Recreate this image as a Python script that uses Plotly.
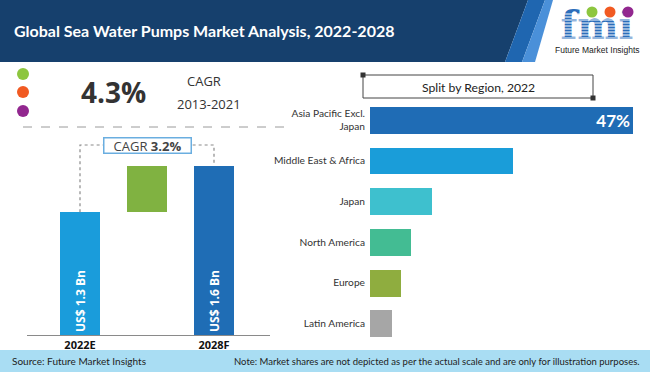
import plotly.graph_objects as go

W, H = 650, 372

# ---------------- data ----------------
TITLE = "Global Sea Water Pumps Market Analysis, 2022-2028"
HIST_CAGR = "4.3%"
HIST_LABEL = "CAGR"
HIST_PERIOD = "2013-2021"
YEARS = ["2022E", "2028F"]
MARKET_BN = [1.3, 1.6]
FCST_CAGR = "3.2%"
REGIONS = ["Asia Pacific Excl.<br>Japan", "Middle East & Africa", "Japan",
           "North America", "Europe", "Latin America"]
SHARES = [47, 25.6, 11.1, 7.3, 5.5, 3.9]
SPLIT_TITLE = "Split by Region, 2022"
SOURCE = "Source: Future Market Insights"
NOTE = ("Note: Market shares are not depicted as per the actual scale and are only "
        "for illustration purposes.")

# ---------------- styles ----------------
LEFT_COLORS = ["#1A9CDB", "#80B241", "#1F6DB5"]
REGION_COLORS = ["#1F6CB5", "#1A9DD9", "#3EC0CE", "#43BC93", "#8FAD3F", "#A6A6A6"]
FLOOR = 0.5          # bottom of the (non-zero based) value axis
GEO = "Open Sans"
CAL = "Lato"


def px(x):
    return x / W


def py(y):
    return 1 - y / H


fig = go.Figure()

# ---- left: market value bars (2022E, growth, 2028F) ----
v0, v1 = MARKET_BN
fig.add_trace(go.Bar(
    x=[0, 1, 2],
    base=[FLOOR, v0, FLOOR],
    y=[v0 - FLOOR, v1 - v0, v1 - FLOOR],
    width=0.6,
    marker=dict(color=LEFT_COLORS, line=dict(width=0)),
    text=[f"US$ {v0} Bn", "", f"US$ {v1} Bn"],
    textposition="inside",
    insidetextanchor="start",
    textangle=-90,
    textfont=dict(family=GEO, size=12, color="white", weight="bold"),
    xaxis="x", yaxis="y",
    hoverinfo="skip", showlegend=False,
))

# ---- right: regional split ----
fig.add_trace(go.Bar(
    orientation="h",
    x=SHARES,
    y=REGIONS,
    width=0.66,
    marker=dict(color=REGION_COLORS, line=dict(width=0)),
    text=[f"{SHARES[0]}%"] + [""] * (len(SHARES) - 1),
    textposition="inside",
    insidetextanchor="end",
    textfont=dict(family=CAL, size=17, color="white", weight="bold"),
    xaxis="x2", yaxis="y2",
    hoverinfo="skip", showlegend=False,
))

# ---- logo word mark on a full-page overlay axis ----
fig.add_trace(go.Scatter(
    x=[597], y=[29], mode="text", text=["fmi"],
    textfont=dict(family="DejaVu Serif", size=39, color="#2B6DBA", weight="bold"),
    cliponaxis=False,
    xaxis="x3", yaxis="y3", hoverinfo="skip", showlegend=False,
))

shapes = []
# header
shapes.append(dict(type="path", xref="paper", yref="paper", layer="below",
                   path=f"M 0,{py(0)} L {px(528)},{py(0)} L {px(505)},{py(62)} L 0,{py(62)} Z",
                   fillcolor="#16406D", line=dict(width=0)))
shapes.append(dict(type="path", xref="paper", yref="paper", layer="below",
                   path=f"M {px(528)},{py(0)} L {px(545)},{py(0)} L {px(522)},{py(62)} L {px(505)},{py(62)} Z",
                   fillcolor="#1F66B0", line=dict(width=0)))
shapes.append(dict(type="path", xref="paper", yref="paper", layer="below",
                   path=f"M {px(545)},{py(0)} L {px(553)},{py(0)} L {px(535)},{py(62)} L {px(522)},{py(62)} Z",
                   fillcolor="#4A90D9", line=dict(width=0)))
# footer
shapes.append(dict(type="rect", xref="paper", yref="paper", layer="below",
                   x0=0, x1=1, y0=py(372), y1=py(350),
                   fillcolor="#A9DDF3", line=dict(width=0)))
# dots
for cy, col in zip([74, 92, 111], ["#8DC63F", "#F15A22", "#92278F"]):
    shapes.append(dict(type="circle", xref="paper", yref="paper",
                       x0=px(17), x1=px(29), y0=py(cy + 6), y1=py(cy - 6),
                       fillcolor=col, line=dict(width=0)))
# dashed separator
shapes.append(dict(type="line", xref="paper", yref="paper",
                   x0=px(23), x1=px(285), y0=py(127), y1=py(127),
                   line=dict(color="#9A9A9A", width=1, dash="dash")))
# CAGR connector (data coordinates of left chart)
YL = FLOOR + (335 - 145) / 153.3
shapes.append(dict(type="path", xref="x", yref="y", layer="above",
                   path=f"M 0,{v0} L 0,{YL} L 2,{YL} L 2,{v1 + 0.02}",
                   line=dict(color="#8A8A8A", width=1.2, dash="dot")))
# split-by-region box
shapes.append(dict(type="rect", xref="paper", yref="paper",
                   x0=px(363), x1=px(593), y0=py(98), y1=py(75),
                   line=dict(color="#444", width=1)))
for cx, cy in [(363, 75), (593, 98)]:
    shapes.append(dict(type="rect", xref="paper", yref="paper",
                       x0=px(cx - 2.5), x1=px(cx + 2.5), y0=py(cy + 2.5), y1=py(cy - 2.5),
                       fillcolor="#333", line=dict(width=0)))
# logo stripes and circles
for sy in range(14, 40, 3):
    shapes.append(dict(type="line", xref="paper", yref="paper", layer="above",
                       x0=px(553), x1=px(642), y0=py(sy), y1=py(sy),
                       line=dict(color="white", width=1)))
for cx, col in zip([592, 610, 628], ["#8DC63F", "#F15A22", "#92278F"]):
    shapes.append(dict(type="circle", xref="paper", yref="paper", layer="above",
                       x0=px(cx - 5.5), x1=px(cx + 5.5), y0=py(17.5), y1=py(6.5),
                       fillcolor=col, line=dict(width=0)))

annotations = [
    dict(text=f"<b>{TITLE}</b>", x=px(12), y=py(30), xanchor="left", yanchor="middle",
         font=dict(family=CAL, size=16, color="white")),
    dict(text="Future Market Insights", x=px(597), y=py(50), xanchor="center", yanchor="middle",
         font=dict(family="Liberation Sans", size=8.5, color="#222")),
    dict(text=f"<b>{HIST_CAGR}</b>", x=px(113), y=py(92), xanchor="center", yanchor="middle",
         font=dict(family=GEO, size=28, color="#333")),
    dict(text=HIST_LABEL, x=px(204), y=py(81), xanchor="center", yanchor="middle",
         font=dict(family=GEO, size=13, color="#333")),
    dict(text=HIST_PERIOD, x=px(209), y=py(104), xanchor="center", yanchor="middle",
         font=dict(family=GEO, size=13, color="#333")),
    dict(text=f"CAGR <b>{FCST_CAGR}</b>", x=1, y=YL, xref="x", yref="y",
         xanchor="center", yanchor="middle", showarrow=False,
         bgcolor="white", bordercolor="#6AAEE0", borderwidth=1.5, borderpad=1,
         width=84, height=12,
         font=dict(family=GEO, size=13, color="#444")),
    dict(text=SPLIT_TITLE, x=px(478), y=py(87), xanchor="center", yanchor="middle",
         font=dict(family=CAL, size=12.2, color="#222")),
    dict(text=SOURCE, x=px(10), y=py(361), xanchor="left", yanchor="middle",
         font=dict(family=CAL, size=10, color="#222")),
    dict(text=NOTE, x=px(642), y=py(361), xanchor="right", yanchor="middle",
         font=dict(family=CAL, size=9.5, color="#222")),
]
for a in annotations:
    a.setdefault("xref", "paper")
    a.setdefault("yref", "paper")
    a.setdefault("showarrow", False)

L_SCALE = 67.0   # px per category step (left chart)
fig.update_layout(
    width=W, height=H,
    margin=dict(l=0, r=0, t=0, b=0),
    paper_bgcolor="white", plot_bgcolor="rgba(0,0,0,0)",
    bargap=0,
    shapes=shapes,
    annotations=annotations,
    xaxis=dict(domain=[px(27), px(270)],
               range=[(27 - 80) / L_SCALE, (270 - 80) / L_SCALE],
               tickvals=[0, 2], ticktext=[f"<b>{y}</b>" for y in YEARS],
               tickfont=dict(family=GEO, size=11, color="#111"),
               showline=True, linecolor="#8A8A8A", linewidth=1,
               showgrid=False, zeroline=False, ticks="", fixedrange=True),
    yaxis=dict(domain=[py(335), py(130)],
               range=[FLOOR, FLOOR + (335 - 130) / 153.3],
               visible=False, showgrid=False, zeroline=False, fixedrange=True),
    xaxis2=dict(domain=[px(370), px(640)], range=[0, (640 - 370) / (263 / SHARES[0])],
                visible=False, showgrid=False, zeroline=False, fixedrange=True),
    yaxis2=dict(domain=[py(343.85), py(99.65)], anchor="x2",
                type="category", range=[len(REGIONS) - 0.5, -0.5],
                tickfont=dict(family=CAL, size=10.2, color="#333"),
                ticklabelstandoff=4, ticks="",
                showline=False, showgrid=False, zeroline=False, fixedrange=True),
    xaxis3=dict(domain=[0, 1], range=[0, W], visible=False, fixedrange=True),
    yaxis3=dict(domain=[0, 1], range=[H, 0], visible=False, fixedrange=True, anchor="x3"),
)
fig.update_layout(xaxis2_anchor="y2", xaxis3_anchor="y3")

fig.write_html(
    "out.html",
    config={"displayModeBar": False},
    post_script="document.body.style.margin='0';document.body.style.overflow='hidden';",
)
